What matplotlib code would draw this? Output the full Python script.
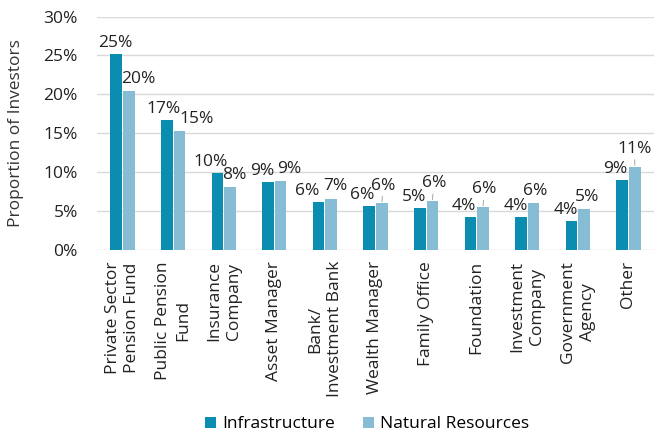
import numpy as np
import matplotlib.pyplot as plt

plt.rcParams['font.family'] = ['Open Sans', 'DejaVu Sans']

categories = ["Private Sector\nPension Fund", "Public Pension\nFund", "Insurance\nCompany",
              "Asset Manager", "Bank/\nInvestment Bank", "Wealth Manager", "Family Office",
              "Foundation", "Investment\nCompany", "Government\nAgency", "Other"]
infrastructure = [25.2, 16.7, 9.9, 8.8, 6.2, 5.7, 5.4, 4.3, 4.3, 3.7, 9.0]
natural_resources = [20.4, 15.3, 8.1, 8.9, 6.6, 6.0, 6.3, 5.5, 6.0, 5.3, 10.7]

# label nudges (points) so neighbouring labels don't collide
inf_dx = [-1, -2, -5, -4, -8, -5, -4, -5, -4, -4, -5]
nr_dx = [7, 12, 3, 6, 3, 1, 1, 1, 1, 2, 0]
nr_lift = [0, 0, 0, 0, 0, 1, 1, 1, 0, 0, 1]  # raised labels get a leader line

c_inf = "#0A8DB0"
c_nr = "#86BCD4"
fs = 12.5

fig = plt.figure(figsize=(6.57, 4.37), dpi=100)
ax = fig.add_axes([0.148, 0.428, 0.847, 0.534])

x = np.arange(len(categories))
w = 0.23
b1 = ax.bar(x - 0.125, infrastructure, w, color=c_inf, label="Infrastructure", zorder=3)
b2 = ax.bar(x + 0.125, natural_resources, w, color=c_nr, label="Natural Resources", zorder=3)

for xi, v, dx in zip(x, infrastructure, inf_dx):
    ax.annotate(f"{v:.0f}%", (xi - 0.125, v), xytext=(dx, 2), textcoords="offset points",
                ha="center", va="bottom", fontsize=fs, color="#222222")
for xi, v, dx, up in zip(x, natural_resources, nr_dx, nr_lift):
    if up:
        ax.annotate(f"{v:.0f}%", (xi + 0.125, v), xytext=(dx, 7), textcoords="offset points",
                    ha="center", va="bottom", fontsize=fs, color="#222222",
                    arrowprops=dict(arrowstyle="-", color="#A6A6A6", lw=0.7,
                                    shrinkA=0, shrinkB=1))
    else:
        ax.annotate(f"{v:.0f}%", (xi + 0.125, v), xytext=(dx, 3), textcoords="offset points",
                    ha="center", va="bottom", fontsize=fs, color="#222222")

ax.set_xlim(-0.5, len(categories) - 0.5)
ax.set_ylim(0, 30)
ax.set_yticks(range(0, 31, 5))
ax.set_yticklabels([f"{t}%" for t in range(0, 31, 5)], fontsize=fs, color="#222222")
ax.set_xticks(x)
ax.set_xticklabels(categories, rotation=90, fontsize=fs, color="#222222",
                   multialignment="center", linespacing=1.3)
ax.tick_params(axis="x", length=0, pad=8)
ax.tick_params(axis="y", length=0, pad=14)
ax.yaxis.grid(True, color="#D9D9D9", linewidth=1, zorder=0)
for s in ax.spines.values():
    s.set_visible(False)
ax.set_ylabel("Proportion of Investors", fontsize=fs, color="#333333", labelpad=14)

fig.legend(handles=[b1, b2], loc="lower center", bbox_to_anchor=(0.559, -0.025), ncol=2,
           frameon=False, fontsize=fs, handlelength=0.63, handleheight=0.63,
           columnspacing=1.6, handletextpad=0.35)

fig.savefig("out.png", dpi=100)
